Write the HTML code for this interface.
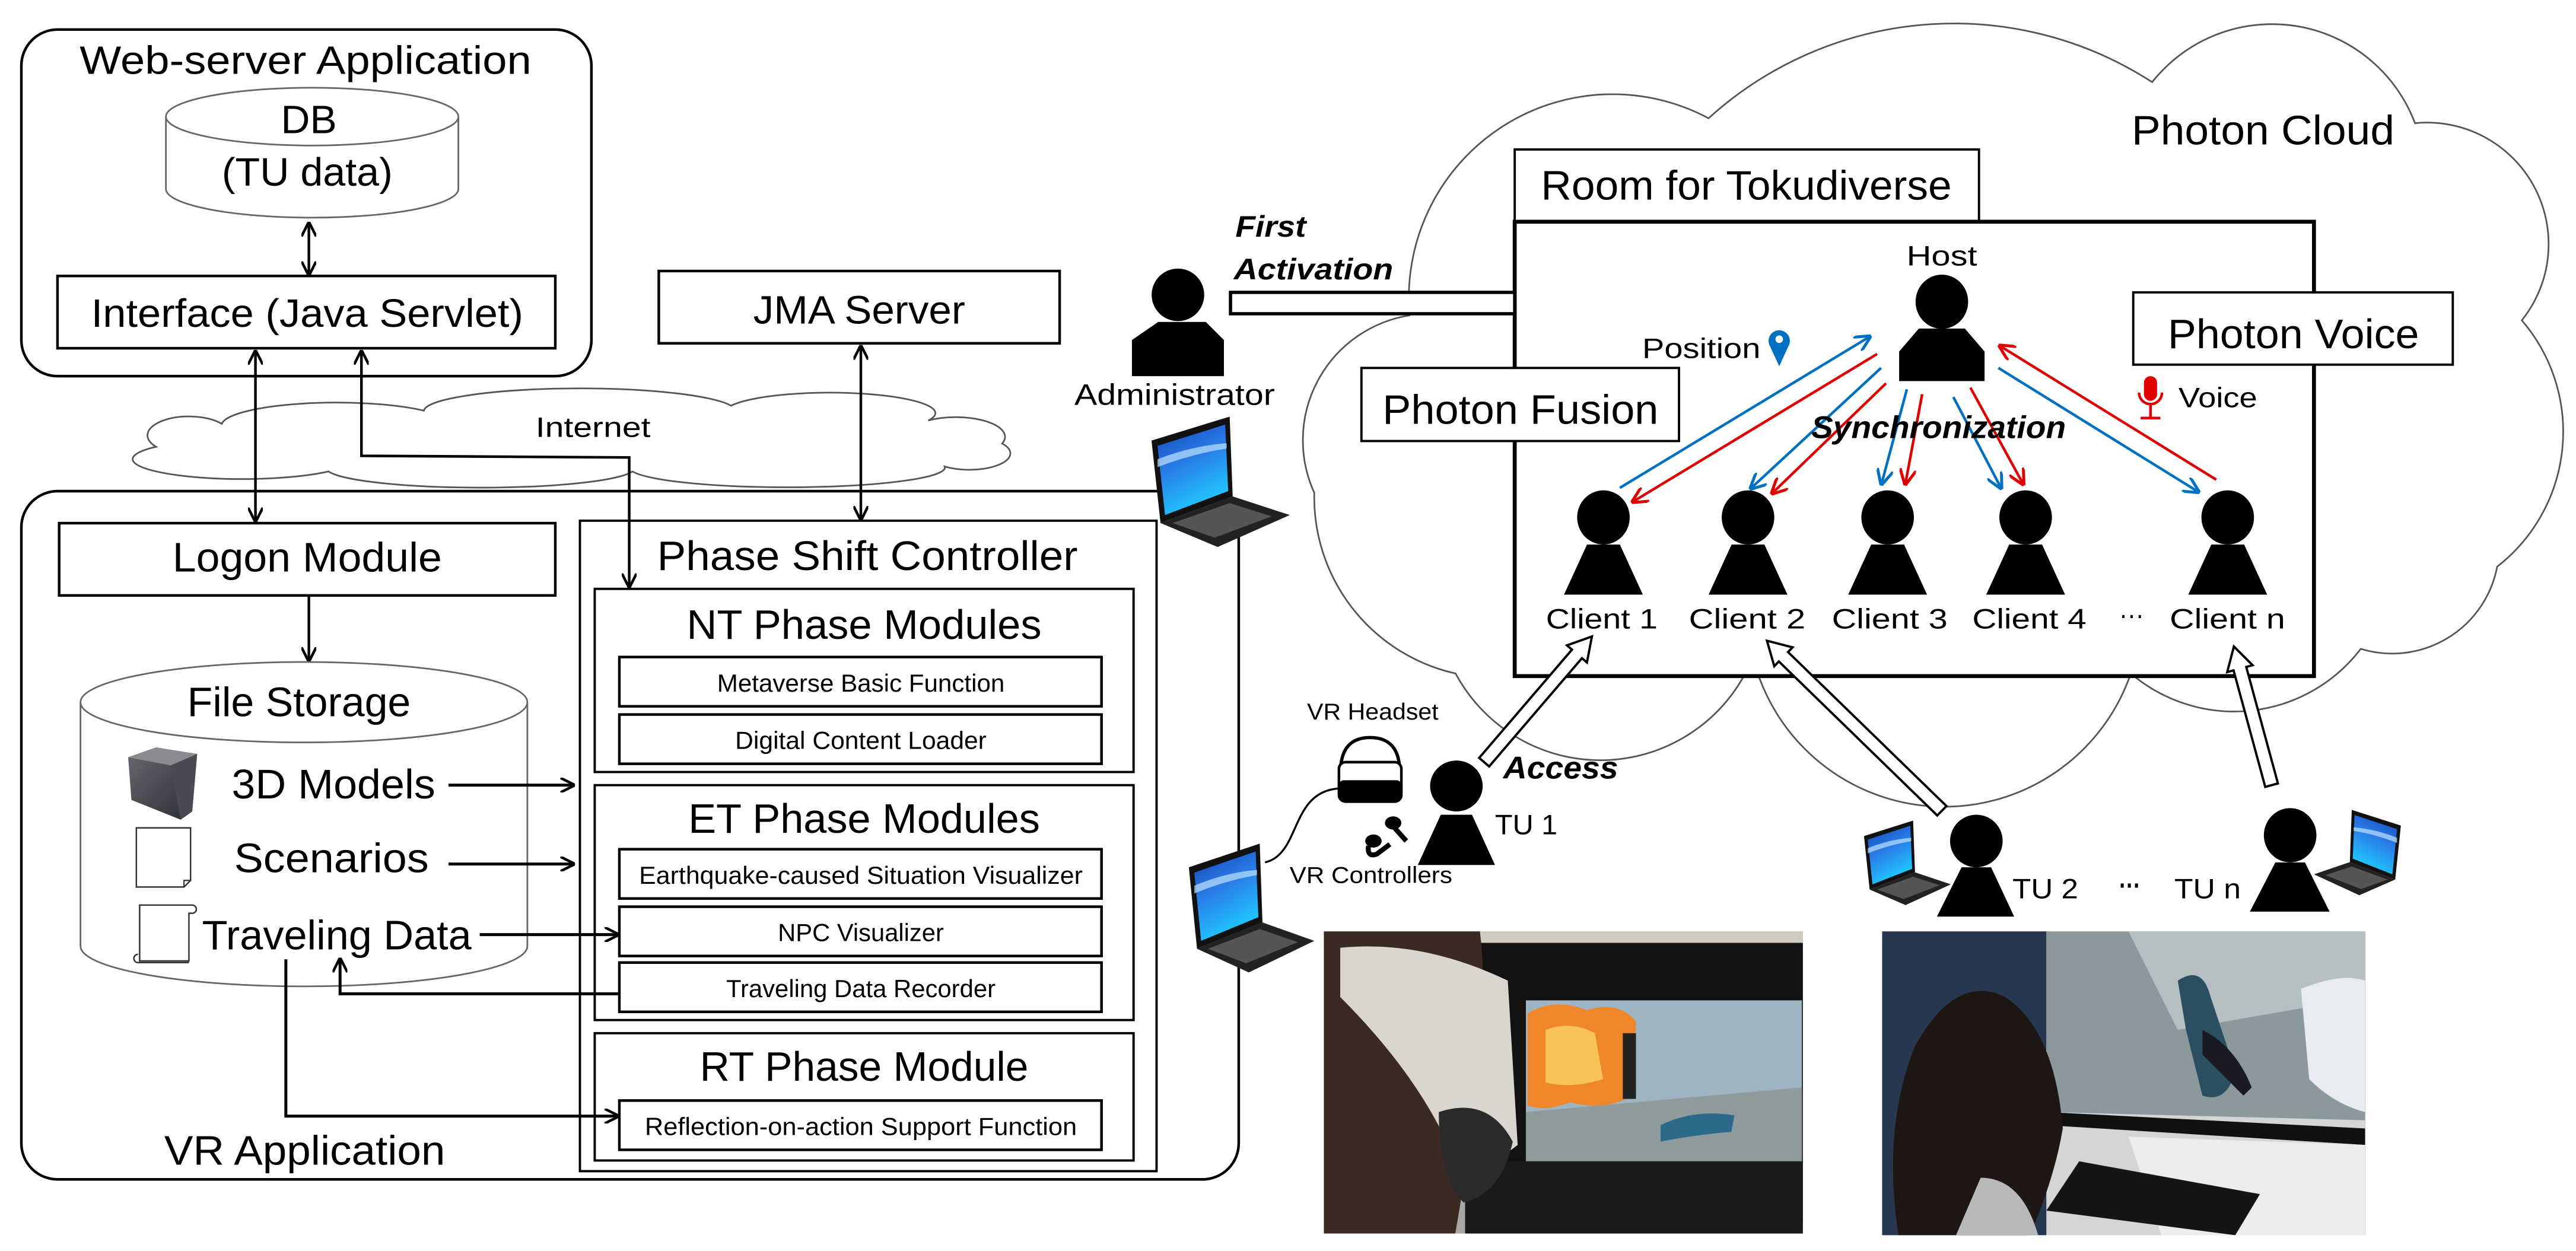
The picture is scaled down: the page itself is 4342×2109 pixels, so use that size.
<!DOCTYPE html>
<html><head><meta charset="utf-8"><style>
html,body{margin:0;padding:0;background:#fff;}
svg{display:block;}
text{font-family:"Liberation Sans",sans-serif;fill:#000;}
</style></head><body>
<svg width="4342" height="2109" viewBox="0 0 1568 761.6" preserveAspectRatio="none" xmlns="http://www.w3.org/2000/svg">
<defs>
<marker id="ab" viewBox="0 0 10 10" refX="10" refY="5" markerWidth="9" markerHeight="9" markerUnits="userSpaceOnUse" orient="auto-start-reverse"><path d="M0,0 L10,5 L0,10" fill="none" stroke="#000" stroke-width="1.8"/></marker>
<marker id="abl" viewBox="0 0 10 10" refX="10" refY="5" markerWidth="10" markerHeight="10" markerUnits="userSpaceOnUse" orient="auto"><path d="M0,0 L10,5 L0,10" fill="none" stroke="#0070c0" stroke-width="1.8"/></marker>
<marker id="ard" viewBox="0 0 10 10" refX="10" refY="5" markerWidth="10" markerHeight="10" markerUnits="userSpaceOnUse" orient="auto"><path d="M0,0 L10,5 L0,10" fill="none" stroke="#e00000" stroke-width="1.8"/></marker>
<linearGradient id="scr" x1="0" y1="0" x2="0.4" y2="1"><stop offset="0" stop-color="#1245b8"/><stop offset="0.5" stop-color="#2a7ee8"/><stop offset="1" stop-color="#1fc8ff"/></linearGradient>
<linearGradient id="cube" x1="0" y1="0" x2="1" y2="1"><stop offset="0" stop-color="#6a6a70"/><stop offset="1" stop-color="#2a2c33"/></linearGradient>
<g id="laptop">
<polygon points="8,20 60,2 62,62 14,82" fill="#111"/>
<polygon points="12,24 57,8 59,58 17,76" fill="url(#scr)"/>
<path d="M12,34 Q35,24 58,22 L58,26 Q35,30 12,40 Z" fill="#bfe3ff" opacity="0.7"/>
<polygon points="14,82 62,62 100,76 52,100" fill="#222"/>
<polygon points="22,82 60,67 88,77 50,93" fill="#555"/>
</g>
</defs>

<!-- Photon cloud -->
<path d="M800,300 A77,77 0 0 1 858,192 A124,124 0 0 1 1040,72 A222,222 0 0 1 1310,50 A93,93 0 0 1 1470,75 A74,74 0 0 1 1535,195 A104,104 0 0 1 1520,345 A65,65 0 0 1 1437,395 A97,97 0 0 1 1297,410 A120,120 0 0 1 1067,400 A100,100 0 0 1 886,410 A110,110 0 0 1 800,300 Z" fill="#fff" stroke="#555" stroke-width="1"/>

<!-- Internet cloud -->
<path d="M95,272 A22,10 0 0 1 135,258 A70,14 0 0 1 258,250 A95,14 0 0 1 445,247 A62,12 0 0 1 565,256 A30,12 0 0 1 610,270 A25,10 0 0 1 575,284 A96,12 0 0 1 385,287 A94,12 0 0 1 200,287 A55,10 0 0 1 95,272 Z" fill="#fff" stroke="#555" stroke-width="1"/>
<text x="361" y="266" font-size="17" text-anchor="middle" textLength="70" lengthAdjust="spacingAndGlyphs">Internet</text>

<!-- Web-server application -->
<rect x="13" y="18" width="347" height="211" rx="22" fill="none" stroke="#000" stroke-width="1.6"/>
<text x="186" y="45" font-size="24" text-anchor="middle" textLength="275" lengthAdjust="spacingAndGlyphs">Web-server Application</text>
<path d="M101,71 L101,115 A89,17.5 0 0 0 279,115 L279,71" fill="#fff" stroke="#666" stroke-width="1"/>
<ellipse cx="190" cy="71" rx="89" ry="17.6" fill="#fff" stroke="#666" stroke-width="1"/>
<text x="188" y="81" font-size="24" text-anchor="middle" textLength="34" lengthAdjust="spacingAndGlyphs">DB</text>
<text x="187" y="113" font-size="24" text-anchor="middle" textLength="104" lengthAdjust="spacingAndGlyphs">(TU data)</text>
<line x1="188" y1="135" x2="188" y2="168" stroke="#000" stroke-width="1.6" marker-start="url(#ab)" marker-end="url(#ab)"/>
<rect x="35" y="168" width="303" height="44" fill="#fff" stroke="#000" stroke-width="1.6"/>
<text x="187" y="199" font-size="24" text-anchor="middle" textLength="263" lengthAdjust="spacingAndGlyphs">Interface (Java Servlet)</text>

<rect x="401" y="165" width="244" height="44" fill="#fff" stroke="#000" stroke-width="1.6"/>
<text x="523" y="197" font-size="24" text-anchor="middle" textLength="129" lengthAdjust="spacingAndGlyphs">JMA Server</text>

<!-- VR application -->
<rect x="13" y="299" width="741" height="419" rx="22" fill="none" stroke="#000" stroke-width="1.6"/>
<text x="100" y="709" font-size="25" textLength="171" lengthAdjust="spacingAndGlyphs">VR Application</text>

<line x1="155.5" y1="213" x2="155.5" y2="318" stroke="#000" stroke-width="1.6" marker-start="url(#ab)" marker-end="url(#ab)"/>
<polyline points="220,213 220,277.5 383,278.5 383,358" fill="none" stroke="#000" stroke-width="1.6" marker-start="url(#ab)" marker-end="url(#ab)"/>
<line x1="524" y1="210" x2="524" y2="317" stroke="#000" stroke-width="1.6" marker-start="url(#ab)" marker-end="url(#ab)"/>

<rect x="36" y="318.5" width="302" height="44" fill="#fff" stroke="#000" stroke-width="1.6"/>
<text x="187" y="348" font-size="25" text-anchor="middle" textLength="164" lengthAdjust="spacingAndGlyphs">Logon Module</text>
<line x1="188" y1="363" x2="188" y2="403" stroke="#000" stroke-width="1.6" marker-end="url(#ab)"/>

<!-- File storage -->
<path d="M49,427.5 L49,576 A136,24.5 0 0 0 321,576 L321,427.5" fill="#fff" stroke="#666" stroke-width="1"/>
<ellipse cx="185" cy="427.5" rx="136" ry="24.5" fill="#fff" stroke="#666" stroke-width="1"/>
<text x="182" y="436" font-size="25" text-anchor="middle" textLength="136" lengthAdjust="spacingAndGlyphs">File Storage</text>
<polygon points="78,461 95,455 120,459 117,494 110,499 80,487" fill="url(#cube)"/>
<polygon points="78,461 95,455 120,459 104,466" fill="#8a8a90"/>
<polygon points="104,466 120,459 117,494 110,499" fill="#4a4b52"/>
<path d="M83,504 L116,504 L116,536 L112,540 L83,540 Z" fill="#fff" stroke="#333" stroke-width="0.9"/>
<path d="M116,536 L112,536 L112,540" fill="none" stroke="#333" stroke-width="0.8"/>
<path d="M85,551 L117,551 A2.5,2.5 0 0 1 117,556 L115,556 L115,585 L85,585 L85,556 Z M85,556 L85,551 M84,581 A2.5,2.5 0 0 0 84,586 L115,586" fill="#fff" stroke="#333" stroke-width="0.9"/>
<text x="141" y="486" font-size="25" textLength="124" lengthAdjust="spacingAndGlyphs">3D Models</text>
<text x="142.5" y="531" font-size="25" textLength="118.5" lengthAdjust="spacingAndGlyphs">Scenarios</text>
<text x="123" y="578" font-size="25" textLength="164" lengthAdjust="spacingAndGlyphs">Traveling Data</text>
<line x1="273" y1="478" x2="350" y2="478" stroke="#000" stroke-width="1.8" marker-end="url(#ab)"/>
<line x1="273" y1="526" x2="350" y2="526" stroke="#000" stroke-width="1.8" marker-end="url(#ab)"/>
<line x1="292" y1="569" x2="377" y2="569" stroke="#000" stroke-width="1.8" marker-end="url(#ab)"/>
<polyline points="377,605 207,605 207,583" fill="none" stroke="#000" stroke-width="1.8" marker-end="url(#ab)"/>
<polyline points="174,584 174,679.5 377,679.5" fill="none" stroke="#000" stroke-width="1.8" marker-end="url(#ab)"/>

<!-- Phase shift controller -->
<rect x="353" y="317" width="351" height="396" fill="none" stroke="#000" stroke-width="1.4"/>
<text x="528" y="347" font-size="25" text-anchor="middle" textLength="256" lengthAdjust="spacingAndGlyphs">Phase Shift Controller</text>
<rect x="362" y="358.5" width="328" height="111.5" fill="#fff" stroke="#000" stroke-width="1.4"/>
<text x="526" y="389" font-size="25" text-anchor="middle" textLength="216" lengthAdjust="spacingAndGlyphs">NT Phase Modules</text>
<rect x="377" y="400" width="293.5" height="30" fill="#fff" stroke="#000" stroke-width="1.6"/>
<text x="524" y="421" font-size="15" text-anchor="middle" textLength="175" lengthAdjust="spacingAndGlyphs">Metaverse Basic Function</text>
<rect x="377" y="435" width="293.5" height="30" fill="#fff" stroke="#000" stroke-width="1.6"/>
<text x="524" y="456" font-size="15" text-anchor="middle" textLength="153" lengthAdjust="spacingAndGlyphs">Digital Content Loader</text>
<rect x="362" y="478" width="328" height="143" fill="none" stroke="#000" stroke-width="1.4"/>
<text x="526" y="507" font-size="25" text-anchor="middle" textLength="214" lengthAdjust="spacingAndGlyphs">ET Phase Modules</text>
<rect x="377" y="517" width="293.5" height="30" fill="#fff" stroke="#000" stroke-width="1.6"/>
<text x="524" y="538" font-size="15" text-anchor="middle" textLength="270" lengthAdjust="spacingAndGlyphs">Earthquake-caused Situation Visualizer</text>
<rect x="377" y="552" width="293.5" height="30" fill="#fff" stroke="#000" stroke-width="1.6"/>
<text x="524" y="573" font-size="15" text-anchor="middle" textLength="101" lengthAdjust="spacingAndGlyphs">NPC Visualizer</text>
<rect x="377" y="586" width="293.5" height="30" fill="#fff" stroke="#000" stroke-width="1.6"/>
<text x="524" y="607" font-size="15" text-anchor="middle" textLength="164" lengthAdjust="spacingAndGlyphs">Traveling Data Recorder</text>
<rect x="362" y="629" width="328" height="77.5" fill="none" stroke="#000" stroke-width="1.4"/>
<text x="526" y="658" font-size="25" text-anchor="middle" textLength="200" lengthAdjust="spacingAndGlyphs">RT Phase Module</text>
<rect x="377" y="670" width="293.5" height="30" fill="#fff" stroke="#000" stroke-width="1.6"/>
<text x="524" y="691" font-size="15" text-anchor="middle" textLength="263" lengthAdjust="spacingAndGlyphs">Reflection-on-action Support Function</text>

<!-- Right side -->
<text x="1297.5" y="88" font-size="25" textLength="160" lengthAdjust="spacingAndGlyphs">Photon Cloud</text>
<rect x="922" y="91" width="282.6" height="44" fill="#fff" stroke="#000" stroke-width="1.4"/>
<text x="1063" y="121.5" font-size="25" text-anchor="middle" textLength="250" lengthAdjust="spacingAndGlyphs">Room for Tokudiverse</text>
<rect x="922" y="135" width="486.5" height="276.6" fill="#fff" stroke="#000" stroke-width="2.4"/>

<rect x="749" y="178" width="173" height="13" fill="#fff" stroke="#000" stroke-width="2"/>
<text x="752" y="144" font-size="18" font-weight="bold" font-style="italic" textLength="43" lengthAdjust="spacingAndGlyphs">First</text>
<text x="751" y="170" font-size="18" font-weight="bold" font-style="italic" textLength="97" lengthAdjust="spacingAndGlyphs">Activation</text>

<!-- Admin -->
<ellipse cx="717" cy="179.5" rx="16" ry="16"/>
<polygon points="705,196 734,196 745,207 745,229 689,229 689,207"/>
<text x="715" y="246.4" font-size="18" text-anchor="middle" textLength="122" lengthAdjust="spacingAndGlyphs">Administrator</text>
<use href="#laptop" transform="translate(693.6,252) scale(0.915,0.81)"/>

<rect x="828.7" y="224" width="193.3" height="44.5" fill="#fff" stroke="#000" stroke-width="1.4"/>
<text x="925.5" y="258" font-size="25" text-anchor="middle" textLength="168" lengthAdjust="spacingAndGlyphs">Photon Fusion</text>
<rect x="1298.5" y="178" width="194.5" height="44" fill="#fff" stroke="#000" stroke-width="1.4"/>
<text x="1396" y="212" font-size="25" text-anchor="middle" textLength="153" lengthAdjust="spacingAndGlyphs">Photon Voice</text>

<text x="1182" y="161.6" font-size="17" text-anchor="middle" textLength="43" lengthAdjust="spacingAndGlyphs">Host</text>
<ellipse cx="1182" cy="183.7" rx="16" ry="16.5"/>
<polygon points="1168,200 1196,200 1208,214 1208,232 1156,232 1156,214"/>

<text x="999.6" y="218" font-size="17" textLength="72" lengthAdjust="spacingAndGlyphs">Position</text>
<path d="M1083,223 L1077.5,211 A6.5,6.5 0 1 1 1088.5,211 Z" fill="#0070c0"/>
<circle cx="1083" cy="206.5" r="2.3" fill="#fff"/>
<rect x="1305" y="229" width="8" height="15" rx="4" fill="#e00000"/>
<path d="M1302,239 A7,7 0 0 0 1316,239" fill="none" stroke="#e00000" stroke-width="1.6"/>
<line x1="1309" y1="246" x2="1309" y2="254" stroke="#e00000" stroke-width="1.6"/>
<line x1="1303" y1="254.5" x2="1315" y2="254.5" stroke="#e00000" stroke-width="1.6"/>
<text x="1326" y="248" font-size="17" textLength="48" lengthAdjust="spacingAndGlyphs">Voice</text>

<!-- sync arrows -->
<g stroke-width="1.6" fill="none">
<line x1="986" y1="297" x2="1139" y2="204.4" stroke="#0070c0" marker-end="url(#abl)"/>
<line x1="1142.6" y1="215.5" x2="993" y2="306" stroke="#e00000" marker-end="url(#ard)"/>
<line x1="1145" y1="224" x2="1065" y2="298" stroke="#0070c0" marker-end="url(#abl)"/>
<line x1="1148" y1="233.4" x2="1078" y2="301" stroke="#e00000" marker-end="url(#ard)"/>
<line x1="1160.7" y1="237" x2="1145" y2="295.6" stroke="#0070c0" marker-end="url(#abl)"/>
<line x1="1170" y1="240" x2="1159.6" y2="295.6" stroke="#e00000" marker-end="url(#ard)"/>
<line x1="1189" y1="241.7" x2="1218.5" y2="298" stroke="#0070c0" marker-end="url(#abl)"/>
<line x1="1199.4" y1="236" x2="1232" y2="295.6" stroke="#e00000" marker-end="url(#ard)"/>
<line x1="1216.4" y1="224" x2="1339" y2="300" stroke="#0070c0" marker-end="url(#abl)"/>
<line x1="1349" y1="292" x2="1216.4" y2="210" stroke="#e00000" marker-end="url(#ard)"/>
</g>
<text x="1180" y="266.6" font-size="19" font-weight="bold" font-style="italic" text-anchor="middle" textLength="155" lengthAdjust="spacingAndGlyphs">Synchronization</text>

<!-- clients -->
<g>
<ellipse cx="976" cy="315" rx="16" ry="16.5"/><polygon points="966,331.5 986,331.5 1000,362 952,362"/>
<ellipse cx="1064" cy="315" rx="16" ry="16.5"/><polygon points="1054,331.5 1074,331.5 1088,362 1040,362"/>
<ellipse cx="1149" cy="315" rx="16" ry="16.5"/><polygon points="1139,331.5 1159,331.5 1173,362 1125,362"/>
<ellipse cx="1233" cy="315" rx="16" ry="16.5"/><polygon points="1223,331.5 1243,331.5 1257,362 1209,362"/>
<ellipse cx="1356" cy="315" rx="16" ry="16.5"/><polygon points="1346,331.5 1366,331.5 1380,362 1332,362"/>
</g>
<g font-size="17">
<text x="941" y="382.6" textLength="68" lengthAdjust="spacingAndGlyphs">Client 1</text>
<text x="1028" y="382.6" textLength="71" lengthAdjust="spacingAndGlyphs">Client 2</text>
<text x="1115" y="382.6" textLength="70.5" lengthAdjust="spacingAndGlyphs">Client 3</text>
<text x="1200.5" y="382.6" textLength="69.5" lengthAdjust="spacingAndGlyphs">Client 4</text>
<text x="1290" y="380" textLength="15" lengthAdjust="spacingAndGlyphs">···</text>
<text x="1320.7" y="382.6" textLength="70.3" lengthAdjust="spacingAndGlyphs">Client n</text>
</g>

<!-- access arrows -->
<g fill="#fff" stroke="#000" stroke-width="1.4">
<polygon transform="translate(903.4,464) rotate(-49.4)" points="0,-4 86.8,-4 86.8,-8 100.8,0 86.8,8 86.8,4 0,4"/>
<polygon transform="translate(1182,493.6) rotate(-135.8)" points="0,-4 134.5,-4 134.5,-8 148.5,0 134.5,8 134.5,4 0,4"/>
<polygon transform="translate(1382.7,478) rotate(-105.2)" points="0,-4 73.5,-4 73.5,-8 87.5,0 73.5,8 73.5,4 0,4"/>
</g>
<text x="915" y="474" font-size="19" font-weight="bold" font-style="italic" textLength="70" lengthAdjust="spacingAndGlyphs">Access</text>

<!-- TU1 -->
<text x="835.6" y="438" font-size="14" text-anchor="middle" textLength="80" lengthAdjust="spacingAndGlyphs">VR Headset</text>
<path d="M816,470 Q816,449 834,449 Q852,449 852,470" fill="none" stroke="#000" stroke-width="2"/>
<rect x="815" y="464" width="38" height="24" rx="4" fill="#fff" stroke="#000" stroke-width="1.6"/>
<rect x="815" y="475" width="38" height="13" rx="3" fill="#000"/>
<path d="M770,525 C792,520 785,482 815,480" fill="none" stroke="#000" stroke-width="1.2"/>
<ellipse cx="848" cy="501" rx="5" ry="4" fill="#000"/><line x1="848" y1="503" x2="856" y2="512" stroke="#000" stroke-width="3"/>
<ellipse cx="836" cy="512" rx="5" ry="4" fill="#000"/><path d="M833,515 Q832,522 838,520 L846,514" fill="none" stroke="#000" stroke-width="3"/>
<text x="834.5" y="537.5" font-size="14" text-anchor="middle" textLength="99" lengthAdjust="spacingAndGlyphs">VR Controllers</text>
<ellipse cx="886.5" cy="478.5" rx="16" ry="15.5"/>
<polygon points="877,496 896,496 910,526.6 863,526.6"/>
<text x="910" y="508" font-size="17" textLength="38" lengthAdjust="spacingAndGlyphs">TU 1</text>
<use href="#laptop" transform="translate(717,512) scale(0.83,0.8)"/>

<!-- TU2 / TUn -->
<ellipse cx="1203" cy="512" rx="16" ry="16"/>
<polygon points="1194,528 1212,528 1226,558 1179,558"/>
<use href="#laptop" transform="translate(1130,498.5) scale(0.575,0.525)"/>
<text x="1225" y="547" font-size="17" textLength="40" lengthAdjust="spacingAndGlyphs">TU 2</text>
<text x="1290" y="545" font-size="17" font-weight="bold" textLength="13" lengthAdjust="spacingAndGlyphs">···</text>
<text x="1323.5" y="547" font-size="17" textLength="40.5" lengthAdjust="spacingAndGlyphs">TU n</text>
<ellipse cx="1394" cy="508.5" rx="16" ry="16.5"/>
<polygon points="1385,525 1403,525 1418,555 1369.5,555"/>
<use href="#laptop" transform="translate(1466,492) scale(-0.575,0.53)"/>

<!-- Photo 1 -->
<svg x="805.8" y="567" width="291.6" height="184" viewBox="0 0 291.6 184" overflow="hidden">
<rect width="291.6" height="184" fill="#a9a7a3"/>
<rect x="0" y="0" width="291.6" height="10" fill="#cfcac2"/>
<rect x="86" y="7" width="206" height="170" fill="#121212"/>
<rect x="123" y="42" width="168" height="98" fill="#9fb4c2"/>
<polygon points="123,110 291,95 291,140 123,140" fill="#8f9a9c"/>
<path d="M124,50 Q140,40 160,48 Q180,42 190,55 L188,100 Q170,110 150,104 Q135,110 124,106 Z" fill="#f0862a"/>
<path d="M135,60 Q150,54 165,62 L170,90 Q150,96 135,92 Z" fill="#f9c35a"/>
<rect x="182" y="62" width="8" height="40" fill="#222"/>
<path d="M205,118 Q225,108 250,112 L248,122 Q225,124 205,128 Z" fill="#2d6a8a"/>
<rect x="86" y="140" width="206" height="44" fill="#1a1a1a"/>
<path d="M0,0 L95,0 Q100,40 92,90 Q88,140 80,184 L0,184 Z" fill="#3b2a22"/>
<path d="M10,10 Q60,5 112,30 L118,130 Q100,145 80,140 Q60,90 10,40 Z" fill="#d9d6cf"/>
<path d="M70,110 Q100,100 115,128 Q108,160 85,165 Q70,150 70,110 Z" fill="#2a2a2a"/>
</svg>

<!-- Photo 2 -->
<svg x="1145.6" y="567" width="294.4" height="185" viewBox="0 0 294.4 185" overflow="hidden">
<rect width="294.4" height="185" fill="#d5d5d5"/>
<rect x="0" y="0" width="100" height="185" fill="#26374f"/>
<polygon points="100,0 294,0 294,115 100,110" fill="#8b989c"/>
<polygon points="150,0 294,0 294,40 180,60" fill="#b6c0c2"/>
<path d="M180,30 Q195,20 200,40 L215,85 Q210,105 195,100 L185,60 Z" fill="#2b4e60"/>
<path d="M195,60 Q215,70 225,95 L220,100 Q205,85 195,75 Z" fill="#1a1a22"/>
<path d="M255,35 Q280,25 294,30 L294,110 Q275,105 260,90 Z" fill="#e8ecf0"/>
<polygon points="100,110 294,120 294,130 100,118" fill="#111"/>
<polygon points="150,125 294,130 294,185 170,185" fill="#ececec"/>
<polygon points="120,140 230,160 215,185 100,170" fill="#151515"/>
<path d="M10,185 Q0,120 20,70 Q45,25 75,40 Q105,60 110,120 Q105,150 90,185 Z" fill="#1d1613"/>
<path d="M60,150 Q85,150 95,185 L45,185 Z" fill="#b8b8b8"/>
</svg>
</svg>
</body></html>
